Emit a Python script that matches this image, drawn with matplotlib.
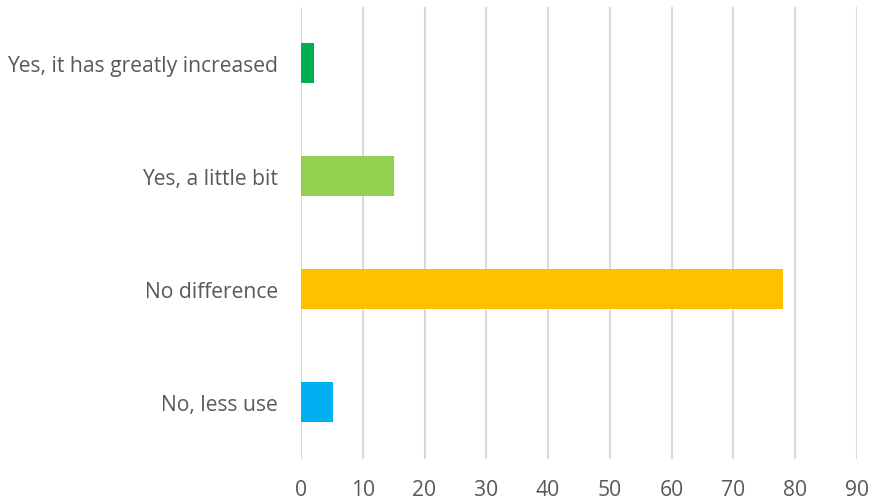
import matplotlib.pyplot as plt

categories = ['No, less use', 'No difference', 'Yes, a little bit', 'Yes, it has greatly increased']
values = [5.2, 78, 15, 2.1]
colors = ['#00B0F0', '#FFC000', '#92D050', '#00B050']
xticks = list(range(0, 100, 10))

plt.rcParams['font.family'] = ['Open Sans', 'DejaVu Sans']

fig = plt.figure(figsize=(8.71, 5.02), dpi=100)
ax = fig.add_axes([301 / 871, 1 - 459.5 / 502, 556 / 871, 452 / 502])

ax.barh(range(len(categories)), values, height=0.36, color=colors, zorder=3)
ax.set_ylim(-0.5, len(categories) - 0.5)
ax.set_xlim(0, 90)
ax.set_xticks(xticks)
ax.set_yticks(range(len(categories)))
ax.set_yticklabels(categories)

ax.grid(axis='x', color='#D9D9D9', linewidth=1.5, zorder=0)
for s in ax.spines.values():
    s.set_visible(False)
ax.tick_params(axis='both', length=0, labelsize=15.2, labelcolor='#595959')
ax.tick_params(axis='y', pad=16.5)
ax.tick_params(axis='x', pad=15)

fig.savefig('out.png', dpi=100)
